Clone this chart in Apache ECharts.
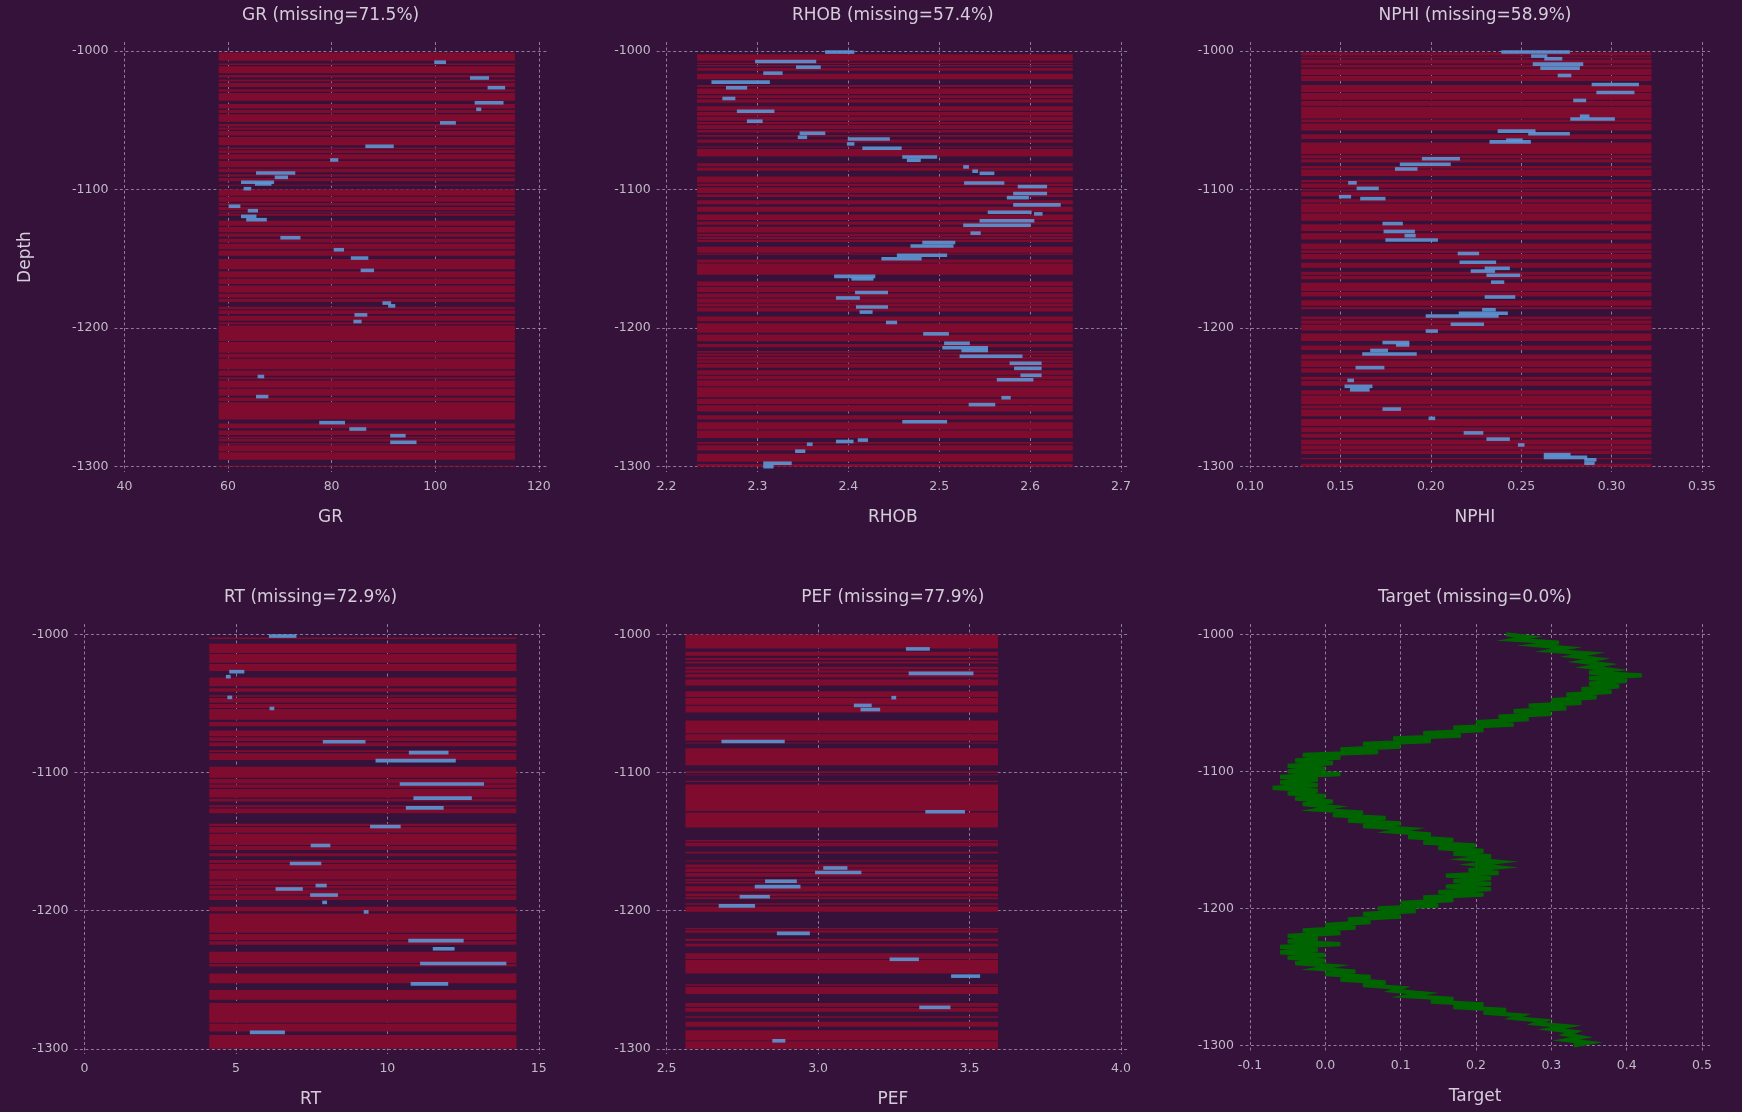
<!DOCTYPE html>
<html>
<head>
<meta charset="utf-8">
<title>Well log coverage</title>
<script src="https://cdn.jsdelivr.net/npm/echarts@6/dist/echarts.min.js"></script>
<style>
  html, body { margin: 0; padding: 0; background: #34123a; }
  #chart { width: 1742px; height: 1112px; }
</style>
</head>
<body>
<div id="chart"></div>
<script>
// ---------------------------------------------------------------------------
// Data
// ---------------------------------------------------------------------------
const logNames = ['GR', 'RHOB', 'NPHI', 'RT', 'PEF', 'Target'];
const missingPct = [71.5, 57.4, 58.9, 72.9, 77.9, 0.0];

const depthTicks = [-1000, -1100, -1200, -1300];
const depthSpan = [-1000, -1300];

const grTicks = [40, 60, 80, 100, 120];
const rhobTicks = [2.2, 2.3, 2.4, 2.5, 2.6, 2.7];
const nphiTicks = [0.10, 0.15, 0.20, 0.25, 0.30, 0.35];
const rtTicks = [0, 5, 10, 15];
const pefTicks = [2.5, 3.0, 3.5, 4.0];
const targetTicks = [-0.1, 0.0, 0.1, 0.2, 0.3, 0.4, 0.5];

// value range of each log (the missing-sample lines run across it)
const grRange = [58.2, 115.4];
const rhobRange = [2.2335, 2.647];
const nphiRange = [0.1283, 0.3221];
const rtRange = [4.12, 14.26];
const pefRange = [2.562, 3.594];

// depth intervals where the log has samples: [from, to]
const grPresent = [
  [-1000, -1001], [-1007, -1009], [-1010, -1011], [-1016, -1017.2], [-1019, -1020.5], [-1022, -1023],
  [-1026, -1027.5], [-1029.3, -1030.3], [-1035.8, -1038.2], [-1041.5, -1042.5], [-1044.6, -1045.6],
  [-1051, -1052.6], [-1054.4, -1055.2], [-1056.8, -1057.6], [-1061, -1062], [-1068, -1069.6],
  [-1070.8, -1071.6], [-1073.6, -1074.4], [-1078, -1079.4], [-1083.8, -1085], [-1087.4, -1089],
  [-1090.6, -1091.6], [-1094, -1096.4], [-1097.2, -1099.8], [-1104.4, -1105.2], [-1108.8, -1109.6],
  [-1111.4, -1112.6], [-1114.8, -1115.8], [-1116.6, -1117.4], [-1118.8, -1122.4], [-1126, -1127],
  [-1130.8, -1131.6], [-1134, -1135.4], [-1138.2, -1139], [-1143, -1144], [-1147.8, -1150],
  [-1157.4, -1159], [-1163.5, -1164.3], [-1168.2, -1169.2], [-1174.3, -1175.1], [-1177.9, -1178.7],
  [-1181.2, -1184.6], [-1186.3, -1187.1], [-1189.8, -1191], [-1194.6, -1195.8], [-1197.2, -1198],
  [-1209.2, -1210], [-1217.7, -1218.5], [-1221.3, -1222.1], [-1229.7, -1230.5], [-1234.4, -1235.4],
  [-1236.9, -1237.7], [-1243, -1243.8], [-1248.8, -1250], [-1252.6, -1253.4], [-1265.9, -1268.8],
  [-1272.2, -1273.8], [-1277.1, -1278.3], [-1279.3, -1279.9], [-1281.8, -1283], [-1284, -1284.6],
  [-1288.8, -1289.6], [-1295, -1299.4]
];
const rhobPresent = [
  [-1000, -1002.3], [-1007, -1008.4], [-1009.3, -1010], [-1011.2, -1012.2], [-1014.2, -1016.4],
  [-1020.4, -1024.4], [-1026, -1027], [-1031, -1031.8], [-1033.8, -1034.8], [-1037.2, -1039.8],
  [-1043, -1044], [-1046.6, -1047.4], [-1050.2, -1051.2], [-1052.6, -1053.4], [-1056.2, -1057],
  [-1058.8, -1060.6], [-1061.8, -1063.8], [-1066.2, -1068.8], [-1069.6, -1070.6], [-1076, -1081],
  [-1083.2, -1084], [-1086.3, -1090.5], [-1094.8, -1095.8], [-1097.3, -1098.3], [-1102.4, -1103.4],
  [-1105.4, -1107.6], [-1110.6, -1112.4], [-1115.9, -1117.9], [-1122, -1123], [-1125.3, -1126.8],
  [-1131, -1131.8], [-1133.4, -1134], [-1135.8, -1136.4], [-1137.8, -1141.2], [-1145.5, -1146.1],
  [-1147, -1150.4], [-1152.7, -1153.3], [-1161.4, -1166.4], [-1169.6, -1170.2], [-1173.9, -1175],
  [-1177.8, -1178.6], [-1181.6, -1182.2], [-1184.3, -1185.1], [-1188, -1191.6], [-1195, -1196.4],
  [-1203.3, -1204.6], [-1209.4, -1211.4], [-1213.7, -1216.5], [-1217.8, -1218.4], [-1219.9, -1220.7],
  [-1222.6, -1223.2], [-1224.9, -1225.7], [-1228.6, -1230.4], [-1233.6, -1234.4], [-1236.8, -1237.6],
  [-1242, -1242.6], [-1249.8, -1251], [-1254.8, -1255.6], [-1260.2, -1262.8], [-1266, -1268],
  [-1273.2, -1273.8], [-1279.2, -1282.2], [-1283.5, -1284.5], [-1288.4, -1290.6], [-1296.5, -1298]
];
const nphiPresent = [
  [-1000, -1001], [-1003.2, -1004], [-1005.1, -1006], [-1009, -1009.8], [-1011.9, -1012.7],
  [-1017.2, -1018], [-1021.6, -1024.5], [-1029.5, -1030.3], [-1035.2, -1036], [-1039.4, -1040.2],
  [-1048.6, -1049.4], [-1051.4, -1052.2], [-1057.4, -1060.1], [-1063.5, -1066], [-1074.3, -1075.1],
  [-1077.3, -1078.1], [-1080.5, -1083], [-1084.7, -1085.5], [-1090.2, -1093], [-1094.7, -1095.5],
  [-1098.7, -1099.5], [-1100.8, -1101.6], [-1104.7, -1106.9], [-1109.2, -1110], [-1116.5, -1117.3],
  [-1122.5, -1124.9], [-1129.8, -1131.5], [-1136, -1138.8], [-1143, -1143.8], [-1145.7, -1146.5],
  [-1150.2, -1152.8], [-1156.4, -1159.2], [-1161.4, -1162.2], [-1164.7, -1167.2], [-1173.1, -1173.9],
  [-1177.1, -1179.9], [-1183.9, -1184.7], [-1186.3, -1191.6], [-1193.6, -1194.4], [-1196.8, -1197.6],
  [-1201.7, -1203.8], [-1209.3, -1212.5], [-1215.7, -1219], [-1222.5, -1223.3], [-1228.1, -1228.9],
  [-1232.1, -1235.1], [-1237.3, -1238.1], [-1241.6, -1244.9], [-1247.8, -1248.6], [-1255, -1255.8],
  [-1258, -1258.8], [-1263.5, -1265.5], [-1270.7, -1271.5], [-1275.2, -1276.3], [-1279.1, -1280.5],
  [-1283.9, -1284.7], [-1287.6, -1288.4], [-1290.9, -1293.7], [-1294.6, -1297.9]
];
const rtPresent = [
  [-1000, -1002.2], [-1003.4, -1006.8], [-1013.4, -1014.2], [-1020.6, -1021.4], [-1026.5, -1031.2],
  [-1037.6, -1039], [-1041.5, -1044], [-1045.2, -1046], [-1049.5, -1050.3], [-1053.2, -1054],
  [-1061.8, -1063.4], [-1066.5, -1069.5], [-1073.7, -1074.5], [-1077.2, -1078.2], [-1081, -1083.9],
  [-1085.2, -1086], [-1091, -1095.9], [-1103.8, -1104.6], [-1107.9, -1108.7], [-1111.1, -1111.9],
  [-1118.1, -1118.9], [-1120.9, -1123.7], [-1125.2, -1126], [-1129.4, -1137], [-1138.7, -1139.5],
  [-1143.6, -1144.4], [-1152.4, -1153.2], [-1156, -1158.4], [-1160.6, -1163.4], [-1165.4, -1166.2],
  [-1170.2, -1171], [-1177.4, -1178.2], [-1181.4, -1182.2], [-1183.9, -1184.7], [-1188.3, -1189.1],
  [-1192.2, -1197.2], [-1200.4, -1202], [-1216, -1216.8], [-1221.3, -1222.1], [-1224.6, -1229.8],
  [-1237.8, -1238.6], [-1240.4, -1245.5], [-1252.6, -1257.5], [-1264.4, -1266.8], [-1281.1, -1281.9],
  [-1287.4, -1290]
];
const pefPresent = [
  [-1010.2, -1012.6], [-1015.4, -1017], [-1018.6, -1019.6], [-1021, -1023.4], [-1025.2, -1026],
  [-1027.8, -1028.6], [-1031.2, -1032.6], [-1037, -1041.2], [-1045.4, -1046], [-1050.9, -1051.7],
  [-1056.5, -1062.4], [-1071.5, -1072.3], [-1077, -1078.2], [-1078.9, -1082.5], [-1094.8, -1099],
  [-1100.4, -1101.4], [-1101.8, -1106], [-1106.8, -1108.6], [-1127.9, -1128.9], [-1139.8, -1148.8],
  [-1150, -1150.8], [-1153.4, -1157.4], [-1158.6, -1163.6], [-1164.4, -1166.6], [-1168.7, -1169.5],
  [-1172, -1172.8], [-1175.5, -1177], [-1178.4, -1179], [-1180.4, -1182.4], [-1186.2, -1187.6],
  [-1189.5, -1190.3], [-1191.8, -1194.6], [-1195.8, -1197], [-1200.8, -1212.5], [-1213.5, -1214.1],
  [-1216, -1220.4], [-1222, -1224], [-1226, -1230.8], [-1235, -1235.8], [-1245.4, -1253.2],
  [-1254.4, -1255.2], [-1260.3, -1266.9], [-1269.6, -1270.4], [-1273.2, -1276.4], [-1277.5, -1280.5],
  [-1284, -1286.5], [-1294, -1294.6]
];

// recorded samples: [depth, value from, value to]
const grSegments = [
  [-1008.0, 100.1, 101.8], [-1019.4, 107.0, 110.1], [-1026.4, 110.4, 113.2], [-1037.3, 107.9, 112.9],
  [-1042.0, 108.2, 108.6], [-1051.8, 101.2, 103.7], [-1068.7, 86.8, 91.7], [-1078.6, 80.0, 81.0],
  [-1088.0, 65.7, 72.7], [-1091.1, 69.3, 71.3], [-1094.7, 62.8, 68.6], [-1095.9, 65.5, 68.1],
  [-1099.3, 63.3, 64.2], [-1112.0, 60.4, 62.1], [-1115.2, 64.1, 65.5], [-1119.3, 62.8, 65.2],
  [-1121.7, 63.8, 67.2], [-1134.7, 70.4, 73.7], [-1143.4, 80.7, 82.1], [-1149.4, 84.0, 86.8],
  [-1158.3, 85.9, 87.9], [-1181.9, 90.1, 91.2], [-1183.9, 91.2, 92.0], [-1190.4, 84.7, 86.6],
  [-1195.2, 84.5, 85.5], [-1234.9, 66.0, 66.7], [-1249.4, 65.7, 67.5], [-1268.2, 77.9, 82.3],
  [-1272.8, 83.7, 86.4], [-1277.6, 91.6, 94.0], [-1282.4, 91.6, 96.1]
];
const rhobSegments = [
  [-1000.7, 2.376, 2.405], [-1007.5, 2.299, 2.363], [-1011.6, 2.344, 2.368], [-1015.9, 2.308, 2.326],
  [-1022.4, 2.251, 2.312], [-1026.5, 2.267, 2.287], [-1034.2, 2.263, 2.274], [-1043.4, 2.279, 2.317],
  [-1050.6, 2.290, 2.304], [-1059.3, 2.348, 2.373], [-1062.2, 2.346, 2.353], [-1063.4, 2.401, 2.444],
  [-1067.0, 2.400, 2.405], [-1070.1, 2.417, 2.457], [-1076.4, 2.461, 2.496], [-1078.8, 2.466, 2.478],
  [-1083.6, 2.528, 2.531], [-1086.7, 2.538, 2.541], [-1088.2, 2.546, 2.559], [-1095.2, 2.529, 2.570],
  [-1097.8, 2.588, 2.617], [-1102.8, 2.583, 2.617], [-1105.8, 2.576, 2.597], [-1111.0, 2.583, 2.632],
  [-1116.3, 2.555, 2.600], [-1117.5, 2.606, 2.612], [-1122.5, 2.546, 2.603], [-1125.7, 2.528, 2.599],
  [-1131.4, 2.536, 2.544], [-1138.2, 2.483, 2.516], [-1140.7, 2.470, 2.514], [-1147.4, 2.455, 2.507],
  [-1149.9, 2.438, 2.479], [-1162.6, 2.386, 2.428], [-1164.4, 2.405, 2.426], [-1174.3, 2.409, 2.442],
  [-1178.2, 2.388, 2.411], [-1184.7, 2.410, 2.442], [-1188.4, 2.414, 2.425], [-1195.9, 2.443, 2.452],
  [-1204.1, 2.484, 2.509], [-1210.9, 2.507, 2.532], [-1214.1, 2.505, 2.552], [-1216.1, 2.526, 2.552],
  [-1220.3, 2.524, 2.590], [-1225.3, 2.579, 2.611], [-1229.0, 2.584, 2.611], [-1234.0, 2.591, 2.611],
  [-1237.2, 2.565, 2.602], [-1250.2, 2.570, 2.577], [-1255.2, 2.534, 2.560], [-1267.6, 2.461, 2.507],
  [-1280.8, 2.412, 2.420], [-1281.8, 2.388, 2.404], [-1283.8, 2.356, 2.359], [-1288.8, 2.343, 2.351],
  [-1297.5, 2.308, 2.336], [-1300.0, 2.308, 2.316]
];
const nphiSegments = [
  [-1000.7, 0.2398, 0.2761], [-1003.6, 0.2563, 0.2636], [-1005.5, 0.2636, 0.2719], [-1009.4, 0.2572, 0.2835],
  [-1012.3, 0.2614, 0.2816], [-1017.6, 0.2710, 0.2769], [-1024.1, 0.2898, 0.3143], [-1029.9, 0.2924, 0.3118],
  [-1035.6, 0.2796, 0.2851], [-1047.0, 0.2833, 0.2869], [-1049.0, 0.2780, 0.3010], [-1057.8, 0.2378, 0.2571],
  [-1059.7, 0.2547, 0.2761], [-1064.3, 0.2425, 0.2500], [-1065.5, 0.2333, 0.2545], [-1077.7, 0.1959, 0.2153],
  [-1081.7, 0.1837, 0.2102], [-1085.1, 0.1810, 0.1918], [-1095.1, 0.1551, 0.1582], [-1099.1, 0.1598, 0.1704],
  [-1105.1, 0.1500, 0.1551], [-1106.5, 0.1618, 0.1741], [-1124.5, 0.1741, 0.1837], [-1130.2, 0.1747, 0.1904],
  [-1133.2, 0.1863, 0.1908], [-1136.4, 0.1757, 0.2031], [-1146.1, 0.2157, 0.2259], [-1152.4, 0.2167, 0.2353],
  [-1156.8, 0.2306, 0.2429], [-1158.8, 0.2229, 0.2347], [-1161.8, 0.2316, 0.2486], [-1166.8, 0.2341, 0.2398],
  [-1177.5, 0.2306, 0.2459], [-1186.7, 0.2292, 0.2351], [-1189.2, 0.2163, 0.2418], [-1191.2, 0.1980, 0.2367],
  [-1197.2, 0.2118, 0.2286], [-1202.1, 0.1980, 0.2031], [-1210.4, 0.1741, 0.1873], [-1212.1, 0.1816, 0.1873],
  [-1216.1, 0.1673, 0.1755], [-1218.6, 0.1629, 0.1914], [-1228.5, 0.1592, 0.1735], [-1237.7, 0.1547, 0.1567],
  [-1242.0, 0.1531, 0.1669], [-1244.5, 0.1561, 0.1653], [-1258.4, 0.1741, 0.1827], [-1265.1, 0.1996, 0.2016],
  [-1275.6, 0.2190, 0.2282], [-1280.1, 0.2316, 0.2429], [-1284.3, 0.2490, 0.2510], [-1291.3, 0.2633, 0.2765],
  [-1293.3, 0.2633, 0.2857], [-1295.0, 0.2857, 0.2908], [-1297.5, 0.2857, 0.2898]
];
const rtSegments = [
  [-1001.2, 6.14, 6.95], [-1027.0, 4.83, 5.23], [-1030.6, 4.72, 4.78], [-1045.6, 4.77, 4.83],
  [-1053.6, 6.16, 6.22], [-1077.7, 7.92, 9.23], [-1085.6, 10.76, 11.97], [-1091.4, 9.66, 12.21],
  [-1108.3, 10.46, 13.14], [-1118.5, 10.91, 12.74], [-1125.6, 10.66, 11.81], [-1139.1, 9.48, 10.39],
  [-1152.8, 7.52, 8.07], [-1165.8, 6.83, 7.77], [-1181.8, 7.68, 7.95], [-1184.3, 6.36, 7.16],
  [-1188.7, 7.50, 8.32], [-1194.0, 7.90, 7.96], [-1200.9, 9.27, 9.33], [-1221.7, 10.74, 12.47],
  [-1227.6, 11.55, 12.17], [-1238.2, 11.13, 13.88], [-1253.0, 10.82, 11.96], [-1288.1, 5.51, 6.57]
];
const pefSegments = [
  [-1010.5, 3.295, 3.364], [-1028.2, 3.304, 3.508], [-1045.8, 3.247, 3.253], [-1051.4, 3.123, 3.172],
  [-1054.4, 3.145, 3.200], [-1077.5, 2.686, 2.885], [-1128.4, 3.359, 3.480], [-1169.1, 3.022, 3.092],
  [-1172.4, 2.995, 3.138], [-1178.7, 2.830, 2.925], [-1182.6, 2.796, 2.937], [-1189.9, 2.746, 2.836],
  [-1196.5, 2.677, 2.787], [-1216.4, 2.869, 2.968], [-1235.2, 3.241, 3.328], [-1247.4, 3.444, 3.530],
  [-1270.0, 3.339, 3.432], [-1294.2, 2.854, 2.887]
];

// target log, one sample every targetStep metres from targetTop
const targetTop = -1000;
const targetStep = 2;
const targetValues = [
  0.24, 0.27, 0.25, 0.31, 0.28, 0.32, 0.30, 0.35, 0.33, 0.36,
  0.34, 0.37, 0.35, 0.38, 0.35, 0.42, 0.35, 0.40, 0.35, 0.39,
  0.34, 0.38, 0.32, 0.36, 0.30, 0.34, 0.27, 0.32, 0.25, 0.30,
  0.23, 0.27, 0.20, 0.25, 0.17, 0.21, 0.13, 0.18, 0.09, 0.14,
  0.05, 0.10, 0.02, 0.07, -0.03, 0.02, -0.04, 0.01, -0.05, 0.00,
  -0.05, 0.02, -0.06, -0.01, -0.06, -0.01, -0.07, -0.01, -0.05, 0.00,
  -0.04, 0.01, -0.03, 0.01, -0.01, 0.05, 0.01, 0.08, 0.03, 0.10,
  0.05, 0.11, 0.09, 0.14, 0.11, 0.17, 0.13, 0.20, 0.15, 0.21,
  0.17, 0.22, 0.19, 0.23, 0.20, 0.23, 0.19, 0.23, 0.16, 0.22,
  0.17, 0.22, 0.16, 0.22, 0.15, 0.21, 0.13, 0.17, 0.10, 0.15,
  0.07, 0.12, 0.05, 0.10, 0.03, 0.06, 0.00, 0.04, -0.03, 0.02,
  -0.05, -0.01, -0.05, 0.02, -0.06, -0.01, -0.06, 0.00, -0.05, 0.00,
  -0.04, 0.01, -0.01, 0.04, 0.00, 0.06, 0.02, 0.08, 0.05, 0.10,
  0.09, 0.13, 0.11, 0.17, 0.14, 0.21, 0.17, 0.24, 0.21, 0.26,
  0.25, 0.29, 0.28, 0.32, 0.30, 0.33, 0.32, 0.34, 0.32, 0.35,
  0.33
];

// ---------------------------------------------------------------------------
// Styling and layout
// ---------------------------------------------------------------------------
const BG = '#34123a';
const RED = '#7f0c2e';
const BLUE = 'rgba(92, 152, 214, 0.9)';
const GREEN = '#006400';
const GRID_LINE = 'rgba(205, 190, 218, 0.6)';
const TITLE_COLOR = '#d5cdda';
const LABEL_COLOR = '#c2b9c8';
const FONT = '"DejaVu Sans", Verdana, sans-serif';

const panels = [
  { ticks: grTicks, decimals: 0, range: grRange, present: grPresent, segments: grSegments,
    box: { left: 114.4, top: 42, width: 432.4, height: 430 }, x: [38.07, 121.54], y: [-1303.83, -993.43] },
  { ticks: rhobTicks, decimals: 1, range: rhobRange, present: rhobPresent, segments: rhobSegments,
    box: { left: 656.6, top: 42, width: 472.4, height: 430 }, x: [2.189, 2.7088], y: [-1303.83, -993.43] },
  { ticks: nphiTicks, decimals: 2, range: nphiRange, present: nphiPresent, segments: nphiSegments,
    box: { left: 1240, top: 42, width: 470, height: 430 }, x: [0.09447, 0.35442], y: [-1303.83, -993.43] },
  { ticks: rtTicks, decimals: 0, range: rtRange, present: rtPresent, segments: rtSegments,
    box: { left: 74.4, top: 624, width: 472.4, height: 430 }, x: [-0.3301, 15.264], y: [-1303.76, -992.47] },
  { ticks: pefTicks, decimals: 1, range: pefRange, present: pefPresent, segments: pefSegments,
    box: { left: 656.6, top: 624, width: 472.4, height: 430 }, x: [2.467, 4.0264], y: [-1303.76, -992.47] },
  { ticks: targetTicks, decimals: 1, line: targetValues,
    box: { left: 1240, top: 624, width: 470, height: 427 }, x: [-0.11327, 0.51062], y: [-1304.01, -992.49] }
];

// depth intervals without samples: complement of the recorded intervals
function missingBands(span, present) {
  const out = [];
  let cur = span[0];
  present.forEach(([a, b]) => {
    if (a < cur) out.push([cur, a]);
    cur = Math.min(cur, b);
  });
  if (cur > span[1]) out.push([cur, span[1]]);
  return out;
}

function bandItem(params, api) {
  const a = api.coord([api.value(0), api.value(2)]);
  const b = api.coord([api.value(1), api.value(3)]);
  return {
    type: 'rect',
    shape: { x: a[0], y: a[1], width: b[0] - a[0], height: Math.max(b[1] - a[1], 0.8) },
    style: { fill: RED }
  };
}

function segmentItem(params, api) {
  const a = api.coord([api.value(1), api.value(0)]);
  const b = api.coord([api.value(2), api.value(0)]);
  return {
    type: 'line',
    shape: { x1: a[0] - 1.5, y1: a[1], x2: b[0] + 1.5, y2: b[1] },
    style: { stroke: BLUE, lineWidth: 3.6, lineCap: 'butt' }
  };
}

const grids = [], xAxes = [], yAxes = [], series = [], titles = [];

panels.forEach((p, i) => {
  const b = p.box;
  grids.push({ left: b.left, top: b.top, width: b.width, height: b.height, containLabel: false, outerBoundsMode: 'none' });

  const split = { show: true, lineStyle: { color: GRID_LINE, width: 1, type: [3, 2.5] } };

  xAxes.push({
    type: 'value', gridIndex: i, min: p.x[0], max: p.x[1],
    name: logNames[i], nameLocation: 'middle', nameGap: 37,
    nameTextStyle: { color: TITLE_COLOR, fontSize: 17, fontFamily: FONT },
    axisLine: { show: false }, axisTick: { show: false, customValues: p.ticks },
    axisLabel: {
      customValues: p.ticks, color: LABEL_COLOR, fontSize: 12.5, fontFamily: FONT, margin: 8,
      formatter: v => Number(v).toFixed(p.decimals)
    },
    splitLine: split
  });

  yAxes.push({
    type: 'value', gridIndex: i, min: p.y[0], max: p.y[1],
    name: i === 0 ? 'Depth' : '', nameLocation: 'middle', nameGap: 80, nameRotate: 90,
    nameTextStyle: { color: TITLE_COLOR, fontSize: 17, fontFamily: FONT },
    axisLine: { show: false }, axisTick: { show: false, customValues: depthTicks },
    axisLabel: {
      customValues: depthTicks, color: LABEL_COLOR, fontSize: 12.5, fontFamily: FONT, margin: 6,
      formatter: v => String(Math.round(v))
    },
    splitLine: split
  });

  titles.push({
    text: logNames[i] + ' (missing=' + missingPct[i].toFixed(1) + '%)',
    left: b.left + b.width / 2, top: b.top - 35, textAlign: 'center', padding: 0,
    textStyle: { color: TITLE_COLOR, fontSize: 17, fontWeight: 'normal', fontFamily: FONT }
  });

  if (p.line) {
    series.push({
      type: 'line', xAxisIndex: i, yAxisIndex: i, showSymbol: false, symbol: 'none',
      lineStyle: { color: GREEN, width: 4.2, join: 'miter' }, z: 3,
      data: p.line.map((v, k) => [v, targetTop - k * targetStep])
    });
  } else {
    const bands = missingBands(depthSpan, p.present)
      .map(([top, bot]) => [p.range[0], p.range[1], top, bot]);
    series.push({
      type: 'custom', xAxisIndex: i, yAxisIndex: i, renderItem: bandItem, clip: true, z: 1,
      encode: { x: [0, 1], y: [2, 3] }, data: bands, silent: true
    });
    series.push({
      type: 'custom', xAxisIndex: i, yAxisIndex: i, renderItem: segmentItem, clip: true, z: 2,
      encode: { x: [1, 2], y: 0 }, data: p.segments, silent: true
    });
  }
});

const chart = echarts.init(document.getElementById('chart'), null, { renderer: 'canvas' });
chart.setOption({
  backgroundColor: BG,
  animation: false,
  textStyle: { fontFamily: FONT },
  title: titles,
  grid: grids,
  xAxis: xAxes,
  yAxis: yAxes,
  series: series
});
</script>
</body>
</html>
